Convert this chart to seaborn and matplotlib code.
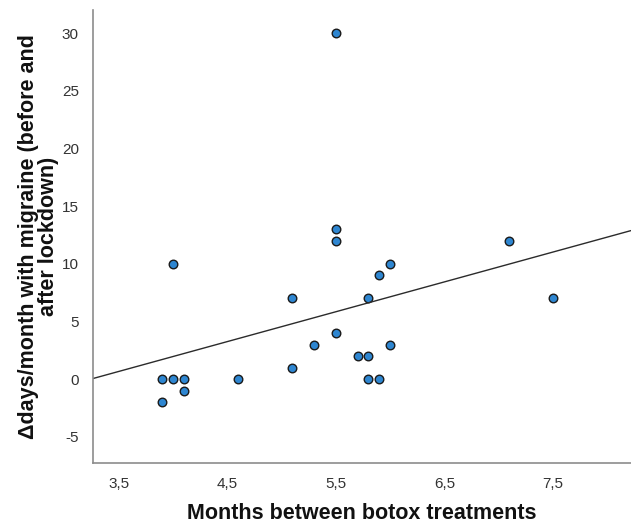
import matplotlib
matplotlib.use("Agg")
import matplotlib.pyplot as plt
from matplotlib.ticker import FuncFormatter
import seaborn as sns
import pandas as pd

# Months between botox treatments vs change in migraine days/month
months = [3.9, 3.9, 4.0, 4.0, 4.1, 4.1, 4.6, 5.1, 5.1, 5.3, 5.5, 5.5,
          5.5, 5.5, 5.7, 5.8, 5.8, 5.8, 5.9, 5.9, 6.0, 6.0, 7.1, 7.5]
delta_days = [0, -2, 0, 10, 0, -1, 0, 7, 1, 3, 30, 13,
              12, 4, 2, 2, 0, 7, 0, 9, 10, 3, 12, 7]
x_ticks = [3.5, 4.5, 5.5, 6.5, 7.5]
y_ticks = [-5, 0, 5, 10, 15, 20, 25, 30]

df = pd.DataFrame({'months': months, 'delta': delta_days})

sns.set_style('white')
plt.rcParams['font.family'] = ['Liberation Sans', 'DejaVu Sans']

fig = plt.figure(figsize=(6.31, 5.29), dpi=100)
ax = fig.add_axes([0.147, 0.125, 0.853, 0.856])
# set limits first so the fit line spans the whole axis (truncate=False)
ax.set_xlim(3.26, 8.22)
ax.set_ylim(-7.25, 32)

sns.regplot(data=df, x='months', y='delta', ax=ax, ci=None, truncate=False,
            scatter_kws={'s': 38, 'color': '#2e86d1', 'edgecolor': '#1a1a1a',
                         'linewidths': 1.0, 'alpha': 1},
            line_kws={'color': '#2b2b2b', 'linewidth': 1.0})
ax.set_xlim(3.26, 8.22)
ax.set_ylim(-7.25, 32)

ax.set_xticks(x_ticks)
ax.set_yticks(y_ticks)
ax.xaxis.set_major_formatter(FuncFormatter(lambda v, p: f'{v:.1f}'.replace('.', ',')))
ax.yaxis.set_major_formatter(FuncFormatter(lambda v, p: f'{v:.0f}'))
ax.tick_params(axis='both', length=0, labelsize=11, labelcolor='#333333', pad=10)

for side in ['top', 'right']:
    ax.spines[side].set_visible(False)
for side in ['left', 'bottom']:
    ax.spines[side].set_color('#8c8c8c')
    ax.spines[side].set_linewidth(1.2)

ax.set_xlabel('Months between botox treatments', fontsize=15.5, fontweight='bold',
              color='#111111', labelpad=9)
ax.set_ylabel('\u0394days/month with migraine (before and\nafter lockdown)', fontsize=15.5,
              fontweight='bold', color='#111111', labelpad=2, linespacing=0.95)

fig.savefig('out.png', dpi=100)
